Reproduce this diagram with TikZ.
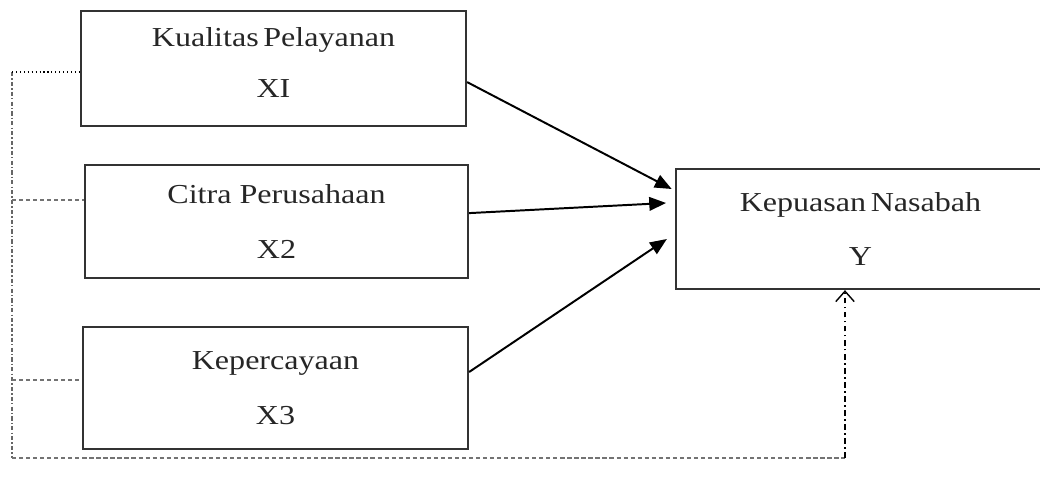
\documentclass[tikz,border=0pt]{standalone}
\usepackage{fontspec}
\setmainfont[FakeStretch=1.17]{Liberation Serif}
\usetikzlibrary{arrows.meta, positioning}
\tikzstyle{varbox} = [rectangle, draw=black!80, line width=1.6pt, align=center,
                      font=\fontsize{19.5}{39}\selectfont, text=black!85]
\tikzstyle{arrow}  = [-{Triangle[length=4.2mm, width=3.4mm]}, line width=1.4pt]
\tikzstyle{link}   = [black!55, line width=0.9pt, dash pattern=on 3pt off 2pt]

\begin{document}
\begin{tikzpicture}
    \clip (0,0) rectangle (26,-12.175);
    \node (kualitas) [varbox, minimum width=9.625cm, minimum height=2.875cm, text depth=0.3cm,
                      font=\fontsize{19.5}{36}\selectfont] at (6.8375,-1.7125)
        {Kualitas\,Pelayanan\\XI};
    \node (citra) [varbox, minimum width=9.575cm, minimum height=2.825cm] at (6.9125,-5.5375)
        {Citra Perusahaan\\X2};
    \node (percaya) [varbox, minimum width=9.625cm, minimum height=3.05cm] at (6.8875,-9.7)
        {Kepercayaan\\X3};
    \node (puas) [varbox, minimum width=9.225cm, minimum height=3.0cm] at (21.5125,-5.725)
        {Kepuasan\,Nasabah\\Y};

    % pengaruh X ke Y
    \draw[arrow] ([yshift=-0.34cm]kualitas.east) -- ([xshift=-0.08cm, yshift=1.0cm]puas.west);
    \draw[arrow] ([yshift=0.21cm]citra.east) -- ([xshift=-0.22cm, yshift=0.65cm]puas.west);
    \draw[arrow] ([yshift=0.4cm]percaya.east) -- ([xshift=-0.2cm, yshift=-0.25cm]puas.west);

    % garis simultan
    \coordinate (top) at (0.3,-1.8);
    \coordinate (mid) at (0.3,-5.0);
    \coordinate (low) at (0.3,-9.5);
    \coordinate (bot) at (0.3,-11.45);
    \coordinate (up)  at ([xshift=-0.3875cm]puas.south |- bot);
    \draw[black!60, line width=0.9pt, dash pattern=on 3pt off 1.5pt on 1pt off 1.5pt] (top) -- (bot);
    \draw[black, line width=0.8pt, dotted] (top) -- (top -| kualitas.west);
    \draw[link] (mid) -- (mid -| citra.west);
    \draw[link] (low) -- (low -| percaya.west);
    \draw[link] (bot) -- (up);
    \draw[-{Straight Barb[length=2.6mm, width=4.6mm]}, line width=1pt,
          dash pattern=on 4pt off 2.5pt on 1pt off 2.5pt] (up) -- ([xshift=-0.3875cm]puas.south);
\end{tikzpicture}
\end{document}
